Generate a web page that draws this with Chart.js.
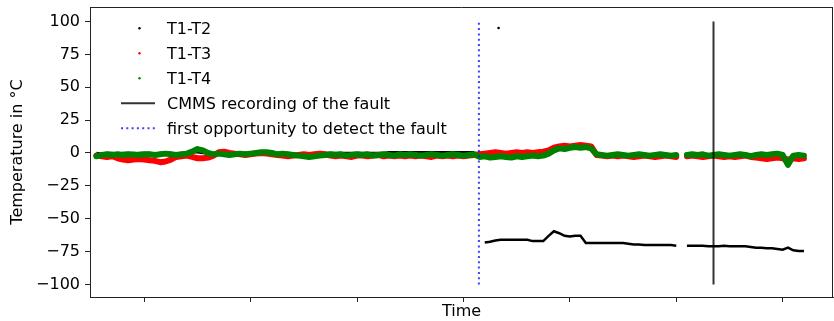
<!DOCTYPE html>
<html>
<head>
<meta charset="utf-8">
<script src="https://cdn.jsdelivr.net/npm/chart.js@4"></script>
<style>
  html, body { margin: 0; padding: 0; background: #fff; }
</style>
</head>
<body>
<canvas id="chart" width="834" height="321"></canvas>
<script>
// sample times (arbitrary time units, unlabeled on the axis)
const times = [
   55,  60,  65,  70,  75,  80,  85,  90,  95, 100,
  105, 110, 115, 120, 125, 130, 135, 140, 145, 150,
  155, 160, 165, 170, 175, 180, 185, 190, 195, 200,
  205, 210, 215, 220, 225, 230, 235, 240, 245, 250,
  255, 260, 265, 270, 275, 280, 285, 290, 295, 300,
  305, 310, 315, 320, 325, 330, 335, 340, 345, 350,
  355, 360, 365, 370, 375, 380, 385, 390, 395, 400,
  405, 410, 415, 420, 425, 430, 435, 440, 445, 450,
  455, 460, 465, 470, 475, 480, 485, 490, 495, 500,
  505, 510, 515, 520, 525, 530, 535, 540, 545, 550,
  555, 560, 565, 570, 575, 580, 585, 590, 595, 600,
  605, 610, 615, 620, 625, 630, 635, 640, 645, 650,
  655, 660, 665, 670, 675, 680, 685, 690, 695, 700,
  705, 710, 715, 720
];

const t1t2 = [
  0, -0.5, 0, 0, -0.5, 0, 0, -0.5, 0, 0,
  0, -0.5, 0, 0, 0, -0.5, 0, 0, 0.5, 0.5,
  0, 0, -0.5, 0, 0, 0, -0.5, 0, 0, 0,
  0, 0.5, 0, 0, 0, -0.5, 0, -0.5, -1, -1,
  -1, -0.5, 0, 0, 0, 0, 0, 0, 0, 0,
  0, 0, 0, 0, 0, 0.5, 0.5, 0.5, 0.5, 0.5,
  0.5, 0.5, 0.5, 0.5, 0.5, 0.5, 0.5, 0.5, 0.5, 0.5,
  0.5, 0.5, null, -68, -67.5, -66.5, -66, -66, -66, -66,
  -66, -66, -67, -67, -67, -63, -59.5, -61, -63, -63.5,
  -63, -63, -68.5, -68.5, -68.5, -68.5, -68.5, -68.5, -68.5, -68.5,
  -69, -69.5, -69.5, -70, -70, -70, -70, -70, -70, -70.5,
  null, -70.5, -70.5, -70.5, -70.5, -71, -71, -71, -70.5, -71,
  -71, -71, -71, -71.5, -72, -72, -72.5, -72.5, -73, -73.5,
  -72, -74, -74.5, -74.5
];

const t1t3 = [
  -2, -2.5, -3, -2.5, -4, -5, -5.5, -5, -4.5, -5,
  -5.5, -6, -7, -6.5, -5, -3, -2.5, -2, -3, -4,
  -4, -3.5, -2, 0.5, 1, 0, -0.5, -1, -1.5, -1,
  -0.5, 0, -0.5, -1, -1.5, -2, -2.5, -2, -1.5, -1,
  -1.5, -1, -0.5, -1, -2, -2.5, -2, -2.5, -3, -2,
  -2, -2.5, -2, -1.5, -2.5, -2, -2.5, -2, -2.5, -2,
  -2.5, -2, -2.5, -3, -2, -2.5, -2, -2.5, -2, -2.5,
  -2, -1.5, -1, -0.5, 0, 0.5, 0, -0.5, 0, 0.5,
  0, 0.5, 0, 0.5, 1, 2, 4, 5, 5.5, 5,
  5.5, 6, 5.5, 5, -1.5, -2, -2.5, -2, -2.5, -2,
  -2.5, -3, -2.5, -2, -2.5, -3, -2.5, -2, -2.5, -3,
  null, -2.5, -2, -2.5, -3, -2.5, -2, -2.5, -3, -2.5,
  -3, -2.5, -2, -3, -3.5, -4, -4.5, -4, -3.5, -4,
  -5, -4, -4.5, -4
];

const t1t4 = [
  -2.5, -1.5, -1, -1.5, -1, -1.5, -1, -1.2, -1.5, -1,
  -1, -1.5, -1, -0.5, -1, -1.5, -1, -0.5, 1, 3,
  2, 0, -1, -0.5, -1, -1.5, -1, -0.5, -1, -0.5,
  0, 0.5, 0.5, 0, -1, -0.5, -1, -1.5, -2, -2.5,
  -3, -2.5, -2, -1.5, -1, -1.5, -1, -2, -1.5, -1,
  -1.5, -1, -2, -1.5, -1, -1.5, -2, -1, -1.5, -1,
  -1.5, -2, -1.5, -1, -1.5, -2, -1.5, -1, -1.5, -2,
  -1.5, -1, -3, -2.5, -3.5, -3, -2.5, -3, -3.5, -2.5,
  -3, -2.5, -2, -2.5, -2, -0.5, 2, 3.5, 3, 4,
  4.5, 4, 4.5, 3.5, -1, -1.5, -2, -1.5, -1, -1.5,
  -2, -1.5, -1, -1.5, -2, -1.5, -1, -1.5, -2, -1.5,
  null, -1.5, -1, -1.5, -1, -2, -1.5, -1, -1.5, -2,
  -1.5, -1, -1.5, -2.5, -1.5, -1, -1.5, -1, -0.5, -1.5,
  -9, -2, -1.5, -2
];

// single stray T1-T2 reading near the top
const strayTime = [433];
const strayValue = [95];

// vertical markers
const cmmsTime = 635;
const firstChanceTime = 414.5;
const markerSpan = [-100, 100];

const yTicks = [-100, -75, -50, -25, 0, 25, 50, 75, 100];
const xTicks = [100, 200, 300, 400, 500, 600, 700];

const toPoints = vals => times.map((t, i) => ({ x: t, y: vals[i] }));
const vline = t => markerSpan.map(v => ({ x: t, y: v }));

Chart.defaults.font.family = '"DejaVu Sans", sans-serif';
Chart.defaults.font.size = 16;
Chart.defaults.color = '#000';

// matplotlib-like box + legend inside the axes
const framePlugin = {
    id: 'frame',
    afterDraw(chart) {
        const { ctx, chartArea: a } = chart;
        ctx.save();
        ctx.strokeStyle = '#222';
        ctx.lineWidth = 1;
        ctx.beginPath();
        ctx.moveTo(a.left, a.top + 0.5);
        ctx.lineTo(a.right, a.top + 0.5);
        ctx.moveTo(a.right - 0.5, a.top);
        ctx.lineTo(a.right - 0.5, a.bottom);
        ctx.stroke();

        const items = [
            { label: 'T1-T2', kind: 'dot', color: '#000' },
            { label: 'T1-T3', kind: 'dot', color: '#ff0000' },
            { label: 'T1-T4', kind: 'dot', color: '#008000' },
            { label: 'CMMS recording of the fault', kind: 'line', color: 'rgba(0,0,0,0.8)' },
            { label: 'first opportunity to detect the fault', kind: 'dots', color: 'rgba(0,0,255,0.75)' }
        ];
        ctx.font = '16px "DejaVu Sans"';
        ctx.textBaseline = 'alphabetic';
        ctx.textAlign = 'left';
        items.forEach((it, i) => {
            const y = 28.3 + i * 25;
            if (it.kind === 'dot') {
                ctx.fillStyle = it.color;
                ctx.beginPath();
                ctx.arc(139.5, y, 1.2, 0, Math.PI * 2);
                ctx.fill();
            } else {
                ctx.strokeStyle = it.color;
                ctx.lineWidth = 2;
                ctx.setLineDash(it.kind === 'dots' ? [2, 3.3] : []);
                ctx.beginPath();
                ctx.moveTo(121, y);
                ctx.lineTo(155, y);
                ctx.stroke();
                ctx.setLineDash([]);
            }
            ctx.fillStyle = '#000';
            ctx.fillText(it.label, 167, y + 5.9);
        });
        ctx.restore();
    }
};

const ctx = document.getElementById('chart').getContext('2d');
new Chart(ctx, {
    type: 'line',
    data: {
        datasets: [
            {
                label: 'CMMS recording of the fault',
                data: vline(cmmsTime),
                borderColor: 'rgba(0,0,0,0.8)',
                borderWidth: 2,
                pointRadius: 0,
                order: 0
            },
            {
                label: 'first opportunity to detect the fault',
                data: vline(firstChanceTime),
                borderColor: 'rgba(0,0,255,0.75)',
                borderWidth: 2,
                borderDash: [2, 3.3],
                pointRadius: 0,
                order: 1
            },
            {
                label: 'T1-T4',
                data: toPoints(t1t4),
                borderColor: '#008000',
                borderWidth: 6,
                borderJoinStyle: 'round',
                borderCapStyle: 'round',
                pointRadius: 0,
                spanGaps: false,
                order: 2
            },
            {
                label: 'T1-T3',
                data: toPoints(t1t3),
                borderColor: '#ff0000',
                borderWidth: 6,
                borderJoinStyle: 'round',
                borderCapStyle: 'round',
                pointRadius: 0,
                spanGaps: false,
                order: 3
            },
            {
                label: 'T1-T2',
                data: toPoints(t1t2),
                borderColor: '#000',
                borderWidth: 2.5,
                pointRadius: 0,
                spanGaps: false,
                order: 4
            },
            {
                label: 'T1-T2 stray',
                data: strayTime.map((t, i) => ({ x: t, y: strayValue[i] })),
                showLine: false,
                pointRadius: 1.3,
                pointBorderWidth: 0,
                pointBackgroundColor: '#000',
                order: 5
            }
        ]
    },
    options: {
        responsive: false,
        animation: false,
        layout: { autoPadding: false, padding: { top: 7, right: 1, left: 0, bottom: 0 } },
        plugins: { legend: { display: false }, tooltip: { enabled: false } },
        scales: {
            x: {
                type: 'linear',
                min: 49,
                max: 747.3,
                afterBuildTicks: s => { s.ticks = xTicks.map(v => ({ value: v })); },
                afterFit: s => { s.height = 24; s.paddingLeft = 0; s.paddingRight = 0; },
                grid: { drawOnChartArea: false, tickLength: 5, color: '#222' },
                border: { color: '#222', width: 1 },
                ticks: { callback: () => '', padding: 0 },
                title: { display: true, text: 'Time', padding: { top: 0, bottom: 0 } }
            },
            y: {
                min: -109.5,
                max: 111,
                afterBuildTicks: s => { s.ticks = yTicks.map(v => ({ value: v })); },
                afterFit: s => { s.width = 90; s.paddingTop = 0; s.paddingBottom = 0; },
                grid: { drawOnChartArea: false, tickLength: 5, color: '#222' },
                border: { color: '#222', width: 1 },
                ticks: {
                    padding: 5,
                    callback: v => (v < 0 ? '\u2212' + Math.abs(v) : String(v))
                },
                title: { display: true, text: 'Temperature in °C', padding: { top: 8.4, bottom: 0 } }
            }
        }
    },
    plugins: [framePlugin]
});
</script>
</body>
</html>
